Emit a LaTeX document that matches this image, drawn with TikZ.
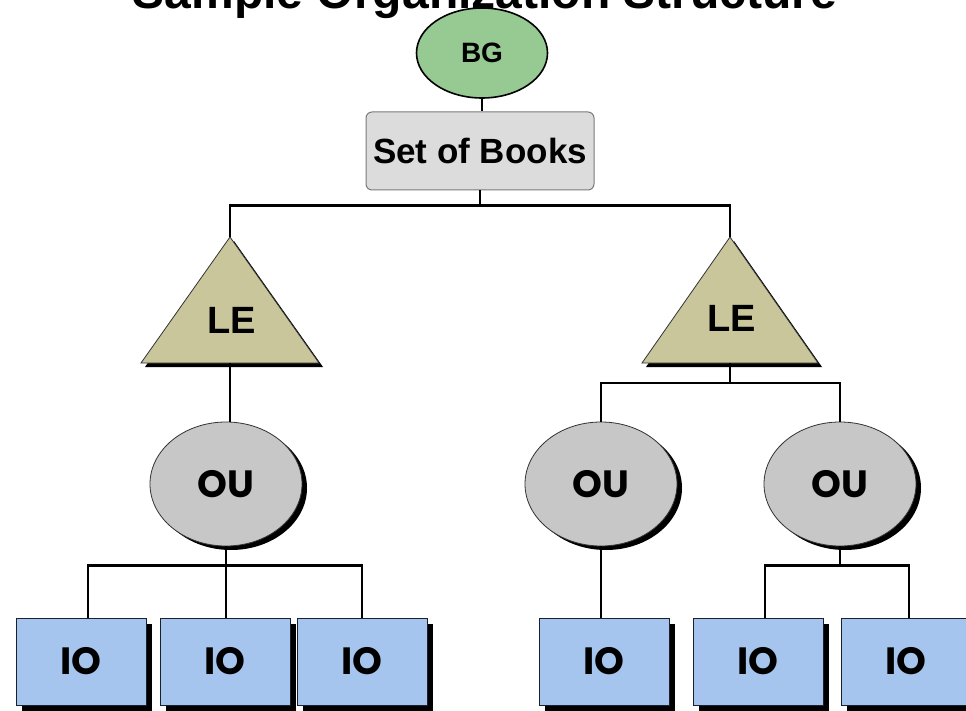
\documentclass[tikz,border=0pt]{standalone}
\usepackage{fontspec}
\setmainfont{Liberation Sans}
\newfontfamily\geo{Poppins}
\usetikzlibrary{shapes.geometric,shadows}
\definecolor{bggreen}{HTML}{97CA92}
\definecolor{sobgray}{HTML}{DCDCDC}
\definecolor{sobedge}{HTML}{7A7A7A}
\definecolor{lekhaki}{HTML}{C9C69C}
\definecolor{ougray}{HTML}{C7C7C7}
\definecolor{ioblue}{HTML}{A6C5EE}
\definecolor{ioedge}{HTML}{1A2030}
\begin{document}
\begin{tikzpicture}[x=1pt,y=-1pt,
  conn/.style={line width=2.6pt, black},
  bgnode/.style={ellipse, draw=black, line width=1.6pt, fill=bggreen, minimum width=131pt, minimum height=90pt, inner sep=0pt, font=\fontsize{28}{30}\selectfont\bfseries},
  sobnode/.style={rectangle, rounded corners=6pt, draw=sobedge, line width=1pt, fill=sobgray, minimum width=228pt, minimum height=78pt, inner sep=0pt, font=\fontsize{35}{40}\selectfont\bfseries},
  letext/.style={font=\fontsize{38}{40}\selectfont\bfseries, inner sep=0pt},
  lebody/.style={fill=lekhaki, draw=black!80, line width=0.8pt, drop shadow={shadow xshift=4pt, shadow yshift=-4pt, fill=black, opacity=1}},
  ounode/.style={ellipse, draw=black!80, line width=0.8pt, fill=ougray, minimum width=152pt, minimum height=124pt, inner sep=0pt, font=\fontsize{38}{40}\geo\bfseries, drop shadow={shadow xshift=5pt, shadow yshift=-4pt, fill=black, opacity=1}},
  ionode/.style={rectangle, draw=ioedge, line width=1pt, fill=ioblue, minimum width=130pt, minimum height=87pt, inner sep=0pt, font=\fontsize{38}{40}\geo\bfseries, drop shadow={shadow xshift=6pt, shadow yshift=-6pt, fill=black, opacity=1}},
  titletext/.style={font=\fontsize{48}{50}\selectfont\bfseries, inner sep=0pt, anchor=base}
]
\useasboundingbox (0,0) rectangle (966,711);
\clip (0,0) rectangle (966,711);
\fill[white] (0,0) rectangle (966,711);

% title (top part cut off as in the reference)
\node[titletext] (title) at (485,9) {Sample Organization Structure};

% top
\node[bgnode] (bg) at (482,53) {BG};
\node[sobnode] (sob) at (480,151) {Set of Books};

% legal entities
\filldraw[lebody] (230,237) -- (319,363) -- (141,363) -- cycle;
\coordinate (le1top) at (230,237);
\coordinate (le1bot) at (230,363);
\node[letext] (le1) at (232,320) {LE};

\filldraw[lebody] (730,237) -- (818,363) -- (642,363) -- cycle;
\coordinate (le2top) at (730,237);
\coordinate (le2bot) at (730,363);
\node[letext] (le2) at (732,318) {LE};

% operating units
\node[ounode] (ou1) at (226,484) {OU};
\node[ounode] (ou2) at (601,484) {OU};
\node[ounode] (ou3) at (840,484) {OU};

% inventory organizations
\node[ionode] (io1) at (81,661.5) {IO};
\node[ionode] (io2) at (225,661.5) {IO};
\node[ionode] (io3) at (362,661.5) {IO};
\node[ionode] (io4) at (604,661.5) {IO};
\node[ionode] (io5) at (758,661.5) {IO};
\node[ionode] (io6) at (906,661.5) {IO};

% connectors
\draw[conn] (bg.south) -- (bg.south |- sob.north);
\draw[conn] (sob.south) -- ++(0,15) coordinate (j0);
\draw[conn] (le1top) |- (j0) -| (le2top);

\draw[conn] (le1bot) -- (le1bot |- ou1.north);
\draw[conn] (le2bot) -- ++(0,20) coordinate (j2);
\draw[conn] (ou2.north) |- (j2) -| (ou3.north);

\draw[conn] (ou1.south) -- ++(0,19) coordinate (j3);
\draw[conn] ([xshift=7pt]io1.north) |- (j3) -| (io3.north);
\draw[conn] (j3) -- (j3 |- io2.north);

\draw[conn] (ou2.south) -- (ou2.south |- io4.north);

\draw[conn] (ou3.south) -- ++(0,19) coordinate (j4);
\draw[conn] ([xshift=7pt]io5.north) |- (j4) -| ([xshift=3pt]io6.north);
\end{tikzpicture}
\end{document}
